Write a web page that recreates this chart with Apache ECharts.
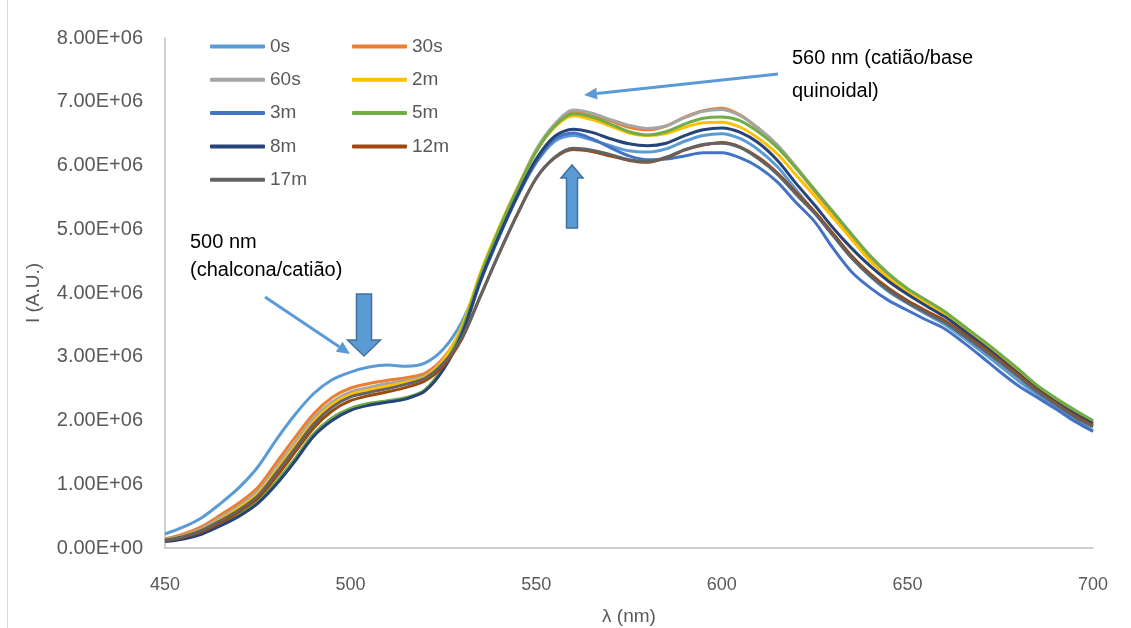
<!DOCTYPE html>
<html lang="pt">

<head>
    <meta charset="UTF-8">
    <title>Espectros de emissão</title>
    <script src="https://cdn.jsdelivr.net/npm/echarts@6/dist/echarts.min.js"></script>
    <style>
        html, body { margin: 0; padding: 0; background: #fff; }
        #chart { width: 1131px; height: 628px; }
    </style>
</head>

<body>
    <div id="chart"></div>

    <script>
        // comprimento de onda (nm), de 5 em 5
        var wl = [450, 455, 460, 465, 470, 475, 480, 485, 490, 495,
            500, 505, 510, 515, 520, 525, 530, 535, 540, 545,
            550, 555, 560, 565, 570, 575, 580, 585, 590, 595,
            600, 605, 610, 615, 620, 625, 630, 635, 640, 645,
            650, 655, 660, 665, 670, 675, 680, 685, 690, 695, 700];

        // intensidades em unidades de 1E+06
        var s0s = [0.22, 0.33, 0.48, 0.70, 0.95, 1.27, 1.70, 2.09, 2.42, 2.64,
            2.76, 2.84, 2.87, 2.85, 2.90, 3.12, 3.55, 4.22, 4.90, 5.52,
            6.04, 6.38, 6.47, 6.40, 6.31, 6.23, 6.21, 6.26, 6.38, 6.47,
            6.50, 6.42, 6.24, 5.98, 5.62, 5.26, 4.90, 4.55, 4.26, 4.02,
            3.84, 3.67, 3.51, 3.30, 3.08, 2.85, 2.62, 2.41, 2.22, 2.02, 1.84];
        var s30s = [0.14, 0.22, 0.34, 0.52, 0.71, 0.95, 1.34, 1.73, 2.10, 2.36,
            2.51, 2.58, 2.63, 2.67, 2.74, 2.98, 3.45, 4.27, 4.99, 5.64,
            6.24, 6.63, 6.85, 6.80, 6.70, 6.60, 6.56, 6.62, 6.76, 6.86,
            6.90, 6.79, 6.57, 6.30, 5.96, 5.60, 5.25, 4.90, 4.56, 4.27,
            4.04, 3.86, 3.68, 3.46, 3.24, 3.01, 2.77, 2.52, 2.32, 2.14, 1.96];
        var s60s = [0.13, 0.20, 0.31, 0.48, 0.66, 0.89, 1.27, 1.65, 2.03, 2.29,
            2.45, 2.52, 2.58, 2.63, 2.70, 2.96, 3.45, 4.28, 5.00, 5.65,
            6.25, 6.65, 6.87, 6.82, 6.72, 6.63, 6.58, 6.62, 6.75, 6.85,
            6.88, 6.78, 6.58, 6.32, 5.98, 5.62, 5.27, 4.92, 4.58, 4.29,
            4.06, 3.88, 3.70, 3.48, 3.26, 3.03, 2.79, 2.54, 2.34, 2.16, 1.98];
        var s2m = [0.12, 0.19, 0.29, 0.45, 0.63, 0.85, 1.22, 1.60, 1.98, 2.25,
            2.41, 2.48, 2.54, 2.60, 2.68, 2.95, 3.48, 4.32, 5.03, 5.66,
            6.22, 6.60, 6.78, 6.72, 6.62, 6.51, 6.47, 6.50, 6.60, 6.67,
            6.68, 6.60, 6.42, 6.18, 5.85, 5.52, 5.18, 4.84, 4.50, 4.23,
            4.02, 3.84, 3.66, 3.45, 3.23, 3.00, 2.76, 2.51, 2.31, 2.13, 1.96];
        var s3m = [0.11, 0.16, 0.24, 0.37, 0.52, 0.72, 1.03, 1.39, 1.78, 2.03,
            2.18, 2.26, 2.30, 2.35, 2.47, 2.82, 3.35, 4.18, 4.88, 5.52,
            6.06, 6.42, 6.51, 6.42, 6.28, 6.15, 6.09, 6.10, 6.15, 6.20,
            6.20, 6.12, 5.97, 5.74, 5.42, 5.12, 4.70, 4.33, 4.08, 3.88,
            3.73, 3.58, 3.44, 3.23, 3.00, 2.76, 2.54, 2.36, 2.18, 1.99, 1.83];
        var s5m = [0.11, 0.16, 0.24, 0.37, 0.53, 0.73, 1.04, 1.40, 1.79, 2.04,
            2.19, 2.27, 2.31, 2.36, 2.48, 2.85, 3.42, 4.28, 5.00, 5.64,
            6.22, 6.62, 6.81, 6.76, 6.65, 6.53, 6.48, 6.53, 6.65, 6.74,
            6.76, 6.70, 6.52, 6.28, 5.96, 5.62, 5.27, 4.92, 4.58, 4.30,
            4.07, 3.89, 3.71, 3.49, 3.27, 3.04, 2.80, 2.55, 2.35, 2.17, 2.00];
        var s8m = [0.10, 0.14, 0.22, 0.35, 0.50, 0.70, 1.00, 1.36, 1.75, 2.00,
            2.16, 2.24, 2.29, 2.34, 2.46, 2.80, 3.36, 4.20, 4.90, 5.54,
            6.10, 6.46, 6.57, 6.52, 6.42, 6.34, 6.31, 6.35, 6.47, 6.56,
            6.59, 6.52, 6.35, 6.08, 5.72, 5.38, 5.02, 4.70, 4.42, 4.18,
            3.98, 3.80, 3.63, 3.42, 3.20, 2.97, 2.73, 2.49, 2.29, 2.11, 1.95];
        var s12m = [0.11, 0.17, 0.26, 0.40, 0.57, 0.78, 1.12, 1.50, 1.88, 2.15,
            2.31, 2.39, 2.45, 2.52, 2.62, 2.86, 3.28, 3.96, 4.62, 5.25,
            5.80, 6.12, 6.25, 6.22, 6.15, 6.08, 6.05, 6.12, 6.24, 6.32,
            6.36, 6.29, 6.12, 5.88, 5.58, 5.28, 4.93, 4.58, 4.30, 4.07,
            3.88, 3.72, 3.57, 3.37, 3.16, 2.94, 2.71, 2.47, 2.27, 2.08, 1.92];
        var s17m = [0.12, 0.18, 0.28, 0.43, 0.60, 0.82, 1.18, 1.56, 1.94, 2.21,
            2.37, 2.44, 2.50, 2.57, 2.66, 2.90, 3.30, 3.95, 4.62, 5.24,
            5.80, 6.13, 6.27, 6.24, 6.17, 6.09, 6.06, 6.13, 6.25, 6.33,
            6.35, 6.28, 6.10, 5.86, 5.55, 5.25, 4.90, 4.55, 4.27, 4.04,
            3.85, 3.69, 3.54, 3.34, 3.13, 2.91, 2.68, 2.45, 2.25, 2.06, 1.90];

        var names = ['0s', '30s', '60s', '2m', '3m', '5m', '8m', '12m', '17m'];
        var values = [s0s, s30s, s60s, s2m, s3m, s5m, s8m, s12m, s17m];
        var colors = ['#5B9BD5', '#ED7D31', '#A5A5A5', '#FFC000', '#4472C4',
            '#70AD47', '#264478', '#9E480E', '#636363'];

        var font = 'Liberation Sans, Arial, sans-serif';
        var grey = '#595959';

        var myChart = echarts.init(document.getElementById('chart'));

        // séries
        var series = names.map(function (n, k) {
            return {
                name: n,
                type: 'line',
                smooth: 0.3,
                symbol: 'none',
                lineStyle: { width: 3, color: colors[k] },
                itemStyle: { color: colors[k] },
                data: wl.map(function (x, i) { return [x, values[k][i]]; })
            };
        });

        // seta fina com ponta triangular
        function thinArrow(x1, y1, x2, y2) {
            var a = Math.atan2(y2 - y1, x2 - x1);
            var L = 13, W = 6;
            var bx = x2 - L * Math.cos(a), by = y2 - L * Math.sin(a);
            var px = -Math.sin(a), py = Math.cos(a);
            return [{
                type: 'line',
                shape: { x1: x1, y1: y1, x2: bx, y2: by },
                style: { stroke: '#5B9BD5', lineWidth: 3 }
            }, {
                type: 'polygon',
                shape: { points: [[x2, y2], [bx + W * px, by + W * py], [bx - W * px, by - W * py]] },
                style: { fill: '#5B9BD5' }
            }];
        }

        // seta "bloco" vertical (dir = 1 para baixo, -1 para cima)
        function blockArrow(cx, tail, tip, shaftW, headW, headL, dir) {
            var base = tip - dir * headL;
            return {
                type: 'polygon',
                shape: {
                    points: [
                        [cx - shaftW / 2, tail], [cx + shaftW / 2, tail],
                        [cx + shaftW / 2, base], [cx + headW / 2, base],
                        [cx, tip], [cx - headW / 2, base], [cx - shaftW / 2, base]
                    ]
                },
                style: { fill: '#5B9BD5', stroke: '#41719C', lineWidth: 1.5 }
            };
        }

        var txt = { fill: '#000', fontSize: 20, fontFamily: font };
        var graphics = [
            { type: 'line', shape: { x1: 7.5, y1: 0, x2: 7.5, y2: 628 }, style: { stroke: '#D9D9D9', lineWidth: 1 } },
            { type: 'text', left: 792, top: 48, style: Object.assign({ text: '560 nm (catião/base' }, txt) },
            { type: 'text', left: 792, top: 81, style: Object.assign({ text: 'quinoidal)' }, txt) },
            { type: 'text', left: 190, top: 232, style: Object.assign({ text: '500 nm' }, txt) },
            { type: 'text', left: 190, top: 260, style: Object.assign({ text: '(chalcona/catião)' }, txt) },
            blockArrow(364, 294, 356, 15, 33, 16, 1),
            blockArrow(572, 228, 165, 11, 22, 13, -1)
        ].concat(thinArrow(778, 74, 584, 95)).concat(thinArrow(265, 297, 350, 354));

        var legendBase = {
            orient: 'vertical',
            top: 37,
            padding: 0,
            icon: 'roundRect',
            itemWidth: 55, itemHeight: 4, itemGap: 14.3,
            textStyle: { color: grey, fontSize: 19, lineHeight: 18, fontFamily: font }
        };

        var option = {
            animation: false,
            backgroundColor: '#fff',
            color: colors,
            grid: { left: 165, right: 38, top: 38, bottom: 80, outerBoundsMode: 'none', containLabel: false },
            legend: [
                Object.assign({ data: ['0s', '60s', '3m', '8m', '17m'], left: 210 }, legendBase),
                Object.assign({ data: ['30s', '2m', '5m', '12m'], left: 352 }, legendBase)
            ],
            xAxis: {
                type: 'value',
                min: 450, max: 700, interval: 50,
                name: 'λ (nm)',
                nameLocation: 'middle',
                nameGap: 59,
                nameTextStyle: { color: grey, fontSize: 19, fontFamily: font },
                axisLine: { lineStyle: { color: '#BFBFBF', width: 1.5 } },
                axisTick: { show: false },
                splitLine: { show: false },
                axisLabel: { color: grey, fontSize: 18, fontFamily: font, margin: 28 }
            },
            yAxis: {
                type: 'value',
                min: 0, max: 8, interval: 1,
                name: 'I (A.U.)',
                nameLocation: 'middle',
                nameGap: 122,
                nameTextStyle: { color: grey, fontSize: 19, fontFamily: font },
                axisLine: { show: true, lineStyle: { color: '#BFBFBF', width: 1.5 } },
                axisTick: { show: false },
                splitLine: { show: false },
                axisLabel: {
                    color: grey, fontSize: 20, fontFamily: font, margin: 22,
                    formatter: function (v) { return v === 0 ? '0.00E+00' : v.toFixed(2) + 'E+06'; }
                }
            },
            graphic: graphics,
            series: series
        };

        myChart.setOption(option);
    </script>
</body>

</html>
